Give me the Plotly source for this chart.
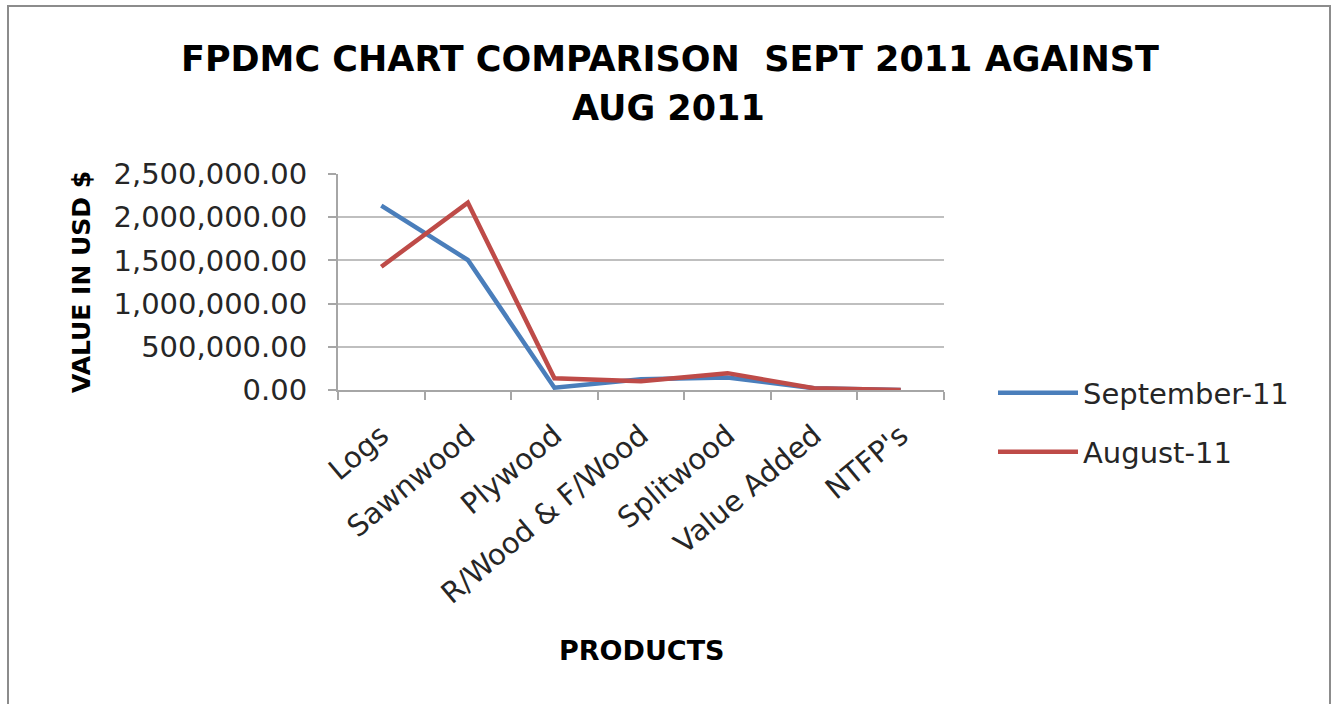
import plotly.graph_objects as go

categories = ["Logs", "Sawnwood", "Plywood", "R/Wood & F/Wood", "Splitwood", "Value Added", "NTFP's"]
september_11 = [2133000, 1505000, 27000, 125000, 145000, 20000, 0]
august_11 = [1427000, 2168000, 135000, 100000, 195000, 20000, 0]
y_ticks = [0, 500000, 1000000, 1500000, 2000000, 2500000]
y_tick_labels = ["0.00", "500,000.00", "1,000,000.00", "1,500,000.00", "2,000,000.00", "2,500,000.00"]

FONT = "DejaVu Sans"
TXT = "#262626"
fig = go.Figure()
fig.add_trace(go.Scatter(x=categories, y=september_11, mode="lines", name="September-11",
                         line=dict(color="#4a7ebb", width=4.5), legend="legend"))
fig.add_trace(go.Scatter(x=categories, y=august_11, mode="lines", name="August-11",
                         line=dict(color="#be4b48", width=4.5), legend="legend2"))

L, R, T, B = 338, 944, 174, 390
W, H = 1333, 704
pw, ph = R - L, B - T

def px(x):
    return (x - L) / pw

def py(y):
    return (B - y) / ph

leg_common = dict(xanchor="left", yanchor="middle",
                  font=dict(family=FONT, size=29, color=TXT),
                  itemwidth=80, bgcolor="rgba(0,0,0,0)", borderwidth=0)

fig.update_layout(
    width=W, height=H,
    margin=dict(l=L, r=W - R, t=T, b=H - B, pad=0),
    paper_bgcolor="white", plot_bgcolor="white",
    font=dict(family=FONT, color=TXT),
    showlegend=True,
    legend=dict(x=px(993), y=py(393), **leg_common),
    legend2=dict(x=px(993), y=py(452), **leg_common),
    xaxis=dict(type="category", range=[-0.5, 6.5], showgrid=False,
               showline=True, linecolor="#a6a6a6", linewidth=2,
               ticks="outside", tickson="boundaries", ticklen=8, tickcolor="#a6a6a6", tickwidth=2,
               tickangle=-40, tickfont=dict(family=FONT, size=29, color=TXT),
               ticklabelstandoff=15, fixedrange=True),
    yaxis=dict(range=[0, 2500000], tickvals=y_ticks, ticktext=y_tick_labels,
               showgrid=True, gridcolor="#bfbfbf", gridwidth=2,
               showline=True, linecolor="#a6a6a6", linewidth=2,
               ticks="outside", ticklen=8, tickcolor="#a6a6a6", tickwidth=2,
               tickfont=dict(family=FONT, size=29, color=TXT),
               ticklabelstandoff=15, zeroline=False, fixedrange=True),
)

fig.add_annotation(text="<b>FPDMC CHART COMPARISON  SEPT 2011 AGAINST</b>",
                   xref="paper", yref="paper", x=px(670), y=py(59), xanchor="center", yanchor="middle",
                   showarrow=False, font=dict(family=FONT, size=35, color="#000000"))
fig.add_annotation(text="<b>AUG 2011</b>",
                   xref="paper", yref="paper", x=px(668), y=py(108), xanchor="center", yanchor="middle",
                   showarrow=False, font=dict(family=FONT, size=35, color="#000000"))
fig.add_annotation(text="<b>VALUE IN USD $</b>", xref="paper", yref="paper",
                   x=px(81), y=py(282), xanchor="center", yanchor="middle", textangle=-90,
                   showarrow=False, font=dict(family=FONT, size=25, color="#000000"))
fig.add_annotation(text="<b>PRODUCTS</b>", xref="paper", yref="paper",
                   x=px(642), y=py(650), xanchor="center", yanchor="middle",
                   showarrow=False, font=dict(family=FONT, size=27, color="#000000"))

fig.add_shape(type="rect", xref="paper", yref="paper",
              x0=px(8), x1=px(1330), y0=py(720), y1=py(6),
              line=dict(color="#8c8c8c", width=2), fillcolor="rgba(0,0,0,0)", layer="below")

fig.write_html("out.html", config={"displayModeBar": False},
               post_script="document.body.style.margin='0';document.body.style.overflow='hidden';")
